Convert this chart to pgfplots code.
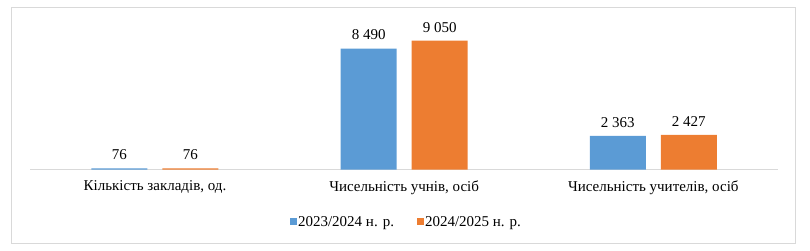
\documentclass[border=0pt]{standalone}
\usepackage{fontspec}
\setmainfont{Liberation Serif}
\usepackage{pgfplots}
\pgfplotsset{compat=1.18}
\definecolor{cblue}{HTML}{5B9BD5}
\definecolor{corange}{HTML}{ED7D31}
\definecolor{cgrid}{HTML}{D9D9D9}
\newcommand{\ff}{\fontsize{15bp}{17bp}\selectfont}
\begin{document}
\begin{tikzpicture}
\useasboundingbox (0,0) rectangle (810bp,251bp);
\draw[cgrid, line width=0.75bp] (11.5bp,7.5bp) rectangle (795.5bp,243.5bp);
\begin{axis}[
  at={(30.4bp,81.5bp)}, anchor=south west,
  scale only axis, width=747.5bp, height=157.5bp,
  xmin=-0.5, xmax=2.5, ymin=0, ymax=11066,
  ybar=15bp, bar width=56bp,
  axis y line=none, axis x line*=bottom,
  x axis line style={cgrid, line width=1bp, -},
  xtick={0,1,2},
  xticklabels={{Кількість закладів, од.}, {Чисельність учнів, осіб}, {Чисельність учителів, осіб}},
  major tick length=0, ytick=\empty,
  xticklabel style={font=\ff, text=black, yshift=-8bp},
  /pgf/number format/.cd, 1000 sep={\ }, assume math mode=true, /pgfplots/.cd,
  nodes near coords,
  nodes near coords style={font=\ff, text=black, yshift=5bp},
  legend columns=2,
  legend style={at={(0.5025,-0.333)}, anchor=center, draw=none, fill=none,
    font=\ff, nodes={inner sep=1bp},
    /tikz/every even column/.append style={column sep=22bp}},
]
\addplot[fill=cblue, draw=none,
  legend image code/.code={\fill[cblue] (0bp,-3.5bp) rectangle (7bp,3.5bp);}]
  coordinates {(0,76) (1,8490) (2,2363)};
\addlegendentry{2023/2024 н. р.}
\addplot[fill=corange, draw=none,
  legend image code/.code={\fill[corange] (0bp,-3.5bp) rectangle (7bp,3.5bp);}]
  coordinates {(0,76) (1,9050) (2,2427)};
\addlegendentry{2024/2025 н. р.}
\end{axis}
\end{tikzpicture}
\end{document}
